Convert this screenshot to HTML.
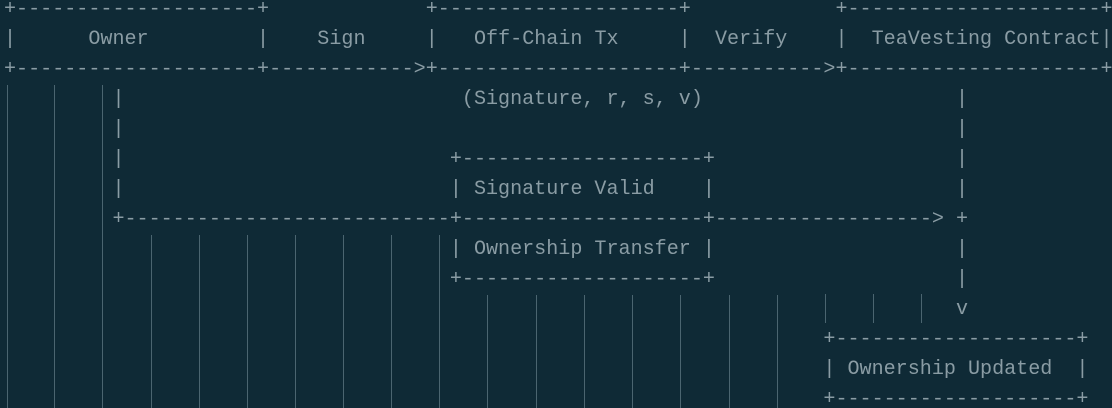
<!DOCTYPE html>
<html><head><meta charset="utf-8"><style>
html,body{margin:0;padding:0;background:#0f2a36;width:1112px;height:408px;overflow:hidden;position:relative}
.t{position:absolute;margin:0;font-family:"Liberation Mono","DejaVu Sans Mono",monospace;font-size:20.08px;line-height:30px;color:#8a9ca4;white-space:pre}
.g{position:absolute;width:1px;background:#4b6570}
</style></head><body>
<div class="g" style="left:7px;top:85px;height:323px"></div>
<div class="g" style="left:54px;top:85px;height:323px"></div>
<div class="g" style="left:102px;top:85px;height:323px"></div>
<div class="g" style="left:151px;top:235px;height:173px"></div>
<div class="g" style="left:199px;top:235px;height:173px"></div>
<div class="g" style="left:247px;top:235px;height:173px"></div>
<div class="g" style="left:295px;top:235px;height:173px"></div>
<div class="g" style="left:343px;top:235px;height:173px"></div>
<div class="g" style="left:391px;top:235px;height:173px"></div>
<div class="g" style="left:439px;top:235px;height:173px"></div>
<div class="g" style="left:487px;top:295px;height:113px"></div>
<div class="g" style="left:536px;top:295px;height:113px"></div>
<div class="g" style="left:584px;top:295px;height:113px"></div>
<div class="g" style="left:632px;top:295px;height:113px"></div>
<div class="g" style="left:680px;top:295px;height:113px"></div>
<div class="g" style="left:729px;top:295px;height:113px"></div>
<div class="g" style="left:777px;top:295px;height:113px"></div>
<div class="g" style="left:825px;top:294px;height:29px"></div>
<div class="g" style="left:873px;top:294px;height:29px"></div>
<div class="g" style="left:921px;top:294px;height:29px"></div>

<!-- row 0 -->
<div class="t" style="top:-5px;left:4px">+--------------------+</div>
<div class="t" style="top:-5px;left:425.75px">+--------------------+</div>
<div class="t" style="top:-5px;left:835.45px">+---------------------+</div>
<!-- row 1 -->
<div class="t" style="top:25px;left:4px">|</div>
<div class="t" style="top:25px;left:88.35px">Owner</div>
<div class="t" style="top:25px;left:257.05px">|</div>
<div class="t" style="top:25px;left:317.3px">Sign</div>
<div class="t" style="top:25px;left:425.75px">|</div>
<div class="t" style="top:25px;left:474px">Off-Chain Tx</div>
<div class="t" style="top:25px;left:678.8px">|</div>
<div class="t" style="top:25px;left:715px">Verify</div>
<div class="t" style="top:25px;left:835.45px">|</div>
<div class="t" style="top:25px;left:871.6px">TeaVesting Contract|</div>
<!-- row 2 -->
<div class="t" style="top:55px;left:4px">+--------------------+------------&gt;</div>
<div class="t" style="top:55px;left:425.75px">+--------------------+-----------&gt;</div>
<div class="t" style="top:55px;left:835.45px">+---------------------+</div>
<!-- rows 3-6 -->
<div class="t" style="top:85px;left:112.45px">|</div>
<div class="t" style="top:85px;left:461.9px">(Signature, r, s, v)</div>
<div class="t" style="top:85px;left:955.95px">|</div>
<div class="t" style="top:115px;left:112.45px">|</div>
<div class="t" style="top:115px;left:955.95px">|</div>
<div class="t" style="top:145px;left:112.45px">|</div>
<div class="t" style="top:145px;left:449.85px">+--------------------+</div>
<div class="t" style="top:145px;left:955.95px">|</div>
<div class="t" style="top:175px;left:112.45px">|</div>
<div class="t" style="top:175px;left:449.85px">| Signature Valid    |</div>
<div class="t" style="top:175px;left:955.95px">|</div>
<!-- row 7 -->
<div class="t" style="top:205px;left:112.45px">+---------------------------</div>
<div class="t" style="top:205px;left:449.85px">+--------------------+</div>
<div class="t" style="top:205px;left:715px">------------------&gt;</div>
<div class="t" style="top:205px;left:955.95px">+</div>
<!-- rows 8-10 -->
<div class="t" style="top:235px;left:449.85px">| Ownership Transfer |</div>
<div class="t" style="top:235px;left:955.95px">|</div>
<div class="t" style="top:265px;left:449.85px">+--------------------+</div>
<div class="t" style="top:265px;left:955.95px">|</div>
<div class="t" style="top:295px;left:955.95px">v</div>
<!-- rows 11-13 -->
<div class="t" style="top:325px;left:823.4px">+--------------------+</div>
<div class="t" style="top:355px;left:823.4px">| Ownership Updated  |</div>
<div class="t" style="top:385px;left:823.4px">+--------------------+</div>
</body></html>
